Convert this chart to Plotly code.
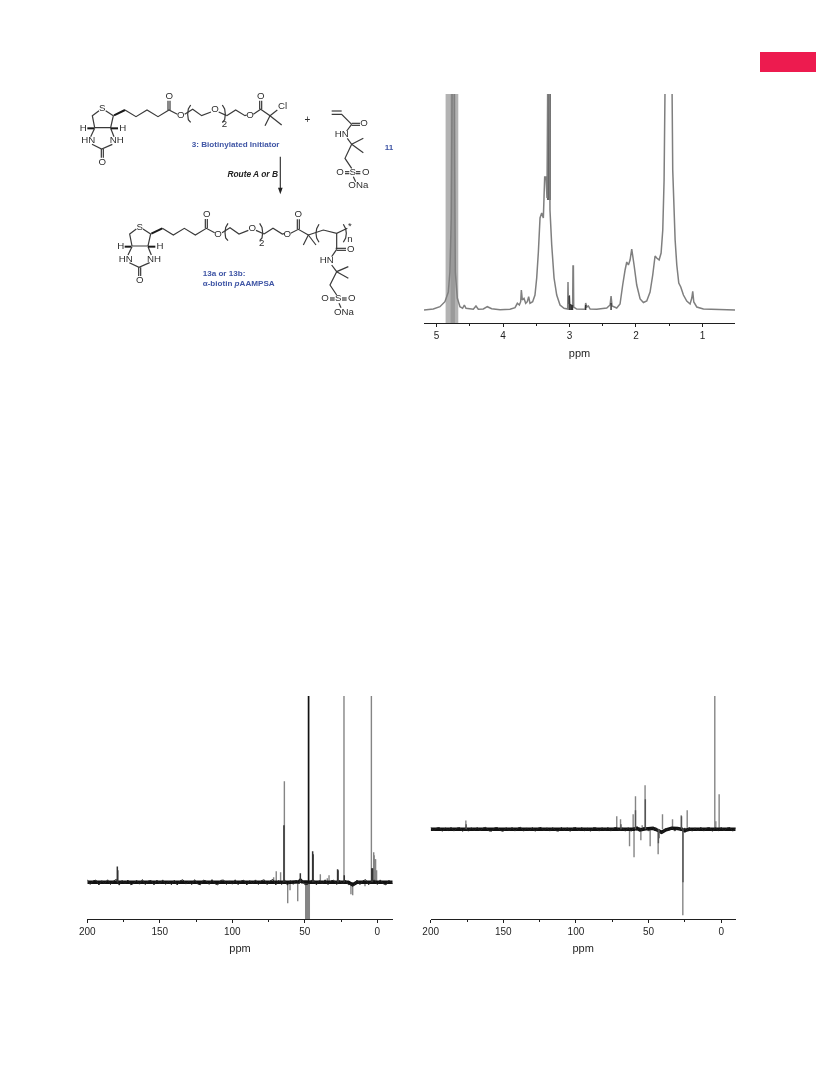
import plotly.graph_objects as go

W, H = 816, 1080
FONT = "Liberation Sans"
AXC = "#1f1f1f"

# ---------- 1H spectrum ----------
h1_ppm = [5.19,5.05,4.95,4.875,4.824,4.80,4.78,4.77,4.764,4.734,4.729,4.719,4.689,4.649,4.609,4.583,4.558,4.448,4.408,4.373,
          4.297,4.237,4.172,4.046,3.896,3.82,3.785,3.755,3.735,3.725,3.71,3.685,3.66,3.635,3.615,3.595,3.555,3.52,3.494,3.469,
          3.444,3.419,3.394,3.374,3.354,3.339,3.324,3.304,3.294,3.268,3.233,3.193,3.143,3.083,3.028,3.023,3.018,3.003,2.993,2.973,
          2.953,2.948,2.942,2.937,2.892,2.767,2.757,2.742,2.716,2.69,2.59,2.44,2.39,2.375,2.36,2.29,2.24,2.2,2.164,2.139,
          2.114,2.089,2.064,2.029,1.989,1.938,1.888,1.838,1.788,1.748,1.713,1.688,1.652,1.622,1.597,1.577,1.557,1.462,1.447,1.411,
          1.386,1.356,1.326,1.286,1.236,1.186,1.16,1.146,1.13,1.085,0.985,0.51]
h1_int = [0,1,3.3,8.3,18,38,92,192,260,260,160,38,12,3.3,1.7,5,1.7,0.7,4,0.7,
          1,3.3,1.3,0.3,0.7,2.3,6.7,5,8.3,20,10,11.7,6.7,8.3,13.3,6.7,8.3,15,32,58,
          92,97,92,133,133,112,260,260,100,65,32,15,5,1.7,1,28,6,15,5,5,
          5,44,44,3,1,0.7,7,3,4,1,0.7,2,5,14,4,2,6,25,40,48,
          45,50,61,45,25,11,7.5,9,18,35,54,52,50,57,80,130,260,260,140,70,
          45,27,23,15,9,6,12,18.7,8,3,1,0]
h1_band_ppm = [4.865, 4.674]
h1_band_inner_ppm = [4.79, 4.724]
h1_band_dark_ppm = [3.34, 3.28]
h1_band_dark_floor = 110
h1_dark_ppm = [3.005, 2.99, 2.97, 2.955, 2.375, 2.757]
h1_dark_int = [14, 6, 5, 5, 7, 5]
h1_ticks = [5, 4, 3, 2, 1]

# ---------- 13C spectrum (left) ----------
c1_core_ppm = [200, 60, 54, 53, 52, 46, 20, 17, 14, -10.6]
c1_core_int = [0, 0, 0.5, 2, 0.5, 0, 0, -2.5, 0, 0]
c1_base_ppm = [200,198,196,194,192,190,188,186,184,182,180,178,176,174,172,170,168,166,164,162,160,158,156,154,152,150,148,146,144,142,
               140,138,136,134,132,130,128,126,124,122,120,118,116,114,112,110,108,106,104,102,100,98,96,94,92,90,88,86,84,82,
               80,78,76,74,72,70,68,66,64,62,60,58,56,54,53,52,50,48,46,44,42,40,38,36,34,32,30,28,26,24,
               22,20,18,17,16,14,12,10,8,6,4,2,0,-2,-4,-6,-8,-10.6]
c1_base_int = [2.6,-2.1,1.4,2.2,-2.7,1.6,-1.3,2.5,-2.2,1.2,2.9,-2.8,1.9,-1.4,2.3,-2.5,-1.2,2.1,-1.9,2.7,-2.3,1.3,1.8,-2.6,2.2,-1.5,2.4,-2.1,1.1,-2.4,
               2.0,-2.7,1.5,2.5,-1.8,1.2,-2.3,2.6,-1.6,-2.5,2.2,1.3,-2.1,2.7,-1.4,-2.6,1.9,2.3,-2.2,1.4,-1.9,2.5,-2.4,1.2,2.1,-2.7,1.7,-1.3,2.4,-2.2,
               1.6,2.5,-2.3,1.3,2.8,-2.6,1.9,-2.2,2.4,-2.8,1.7,-2.0,2.2,-1.5,1.9,2.3,-2.4,-2.1,1.6,2.4,-2.5,1.8,-1.6,2.5,-2.3,1.4,2.1,-2.2,1.9,-1.7,
               2.3,-2.4,-1.6,-3.6,-2.9,2.2,-2.3,1.5,2.6,-2.5,1.3,2.1,-2.2,2.4,-1.4,-2.6,2.0,-1.8]
c1_grey_ppm = [71.5,69.7,66.7,64.1,60.2,61.8,54.9,49.4,48.8,48.2,47.6,46.9,39.3,33.3,34.5,23.0,18.2,17.0,8.5,4.1,2.5,2.2,1.6,1.2,0.5,1.9]
c1_grey_int = [5,11,10,101,-8,-21,-19,-37,-37,-37,-37,-37,8,7,4,190,-12,-13,-4,190,30,27,23,23,12,23]
c1_dark_ppm = [179.3,179.0,64.4,53.1,44.6,44.3,27.4,27.1,22.8,3.8,3.3]
c1_dark_int = [15.7,12,57,9,31,28,13,12,7,14,14]
c1_black_ppm = [47.4]
c1_black_int = [190]

# ---------- 13C spectrum (right) ----------
c2_core_ppm = [200, 60, 58, 56, 52, 47, 43, 41, 38, 34, 30, 27, 25, 24, 22, -10]
c2_core_int = [0, 0, 1.2, -0.6, 0.4, 1, -1.5, -3, -0.5, 1.2, 0.8, 0, -1.6, -0.8, 0, 0]
c2_base_ppm = [200,198,196,194,192,190,188,186,184,182,180,178,176,174,172,170,168,166,164,162,160,158,156,154,152,150,148,146,144,142,
               140,138,136,134,132,130,128,126,124,122,120,118,116,114,112,110,108,106,104,102,100,98,96,94,92,90,88,86,84,82,
               80,78,76,74,72,70,68,66,64,62,60,58,56,55,54,52,50,48,47,46,45,44,43,42,41,40,38,36,34,32,30,28,27,26,25,24,
               22,20,18,16,14,12,10,8,6,4,2,0,-2,-4,-6,-8,-10]
c2_base_int = [1.9,-1.7,1.3,1.8,-2.0,1.4,-1.2,2.0,-1.8,1.2,1.7,-2.1,1.5,-1.9,1.6,-1.4,1.9,-1.7,1.2,2.0,-1.6,-1.9,1.5,1.8,-1.3,-2.0,1.7,-1.5,1.9,-1.8,
               1.3,2.0,-1.9,1.4,-1.5,1.8,-2.0,1.2,1.9,-1.6,1.5,-1.8,1.7,-1.3,-1.9,2.0,-1.4,1.6,-2.1,1.3,1.8,-1.7,1.9,-1.5,1.2,-2.0,1.6,1.4,-1.8,1.7,
               -1.4,1.9,-1.8,1.3,2.0,-1.7,1.5,-1.9,1.6,-2.0,1.8,-1.3,1.7,-1.6,1.4,2.0,-1.8,1.3,1.7,-1.5,1.6,-1.7,-0.6,-3.8,-3.5,-2.6,0.9,-1.4,1.7,-1.8,1.5,-1.3,1.6,-1.7,1.4,-1.6,
               1.8,-1.9,1.4,-1.6,2.0,-1.8,1.3,1.7,-2.0,1.5,-1.4,1.9,-1.7,1.2,1.8,-1.9,1.6]
c2_grey_ppm = [175.8,71.9,69.3,63.1,60.6,60.0,59.0,55.3,54.4,52.4,48.9,43.4,40.4,33.5,27.5,26.4,23.4,4.4,3.7,1.4]
c2_grey_int = [8.7,13,10,-17,15,-28,33,-11,4,44,-17,-25,15,10,14,-86,19,140,8,35]
c2_dark_ppm = [175.6,69.0,59.0,52.2,43.2,42.8,27.3,26.3]
c2_dark_int = [5,5,19,30,-14,-9,13,-53]

# ---------- page / scheme ----------
flag_box = [760, 816, 52, 72]
ring_bonds = [[(87,77),(67,92),(74,128),(122,128),(130,92),(107,77)],
              [(74,130),(62,155)],[(122,130),(132,155)],[(66,178),(95,192),(127,178)],
              [(94,192),(94,218)],[(100,192),(100,218)],
              [(165,75),(198,95),(231,75),(264,95),(297,75),(322,88)],
              [(294,75),(294,47)],[(300,75),(300,47)],
              [(344,88),(368,73),(395,92),(423,81)],[(446,81),(470,92)]]
ring_wedges = [[(72,130),(52,130)],[(122,130),(144,130)],[(132,91),(165,75)]]
ring_labels = [(97,72,"S"),(40,131,"H"),(158,131,"H"),(55,168,"HN"),(140,168,"NH"),(97,232,"O"),(298,35,"O"),(332,93,"O"),(435,75,"O")]
ring_sub = [(463,120,"2")]
ring_brackets = [[(362,60),(355,72),(353,88),(355,104),(362,112)],[(457,60),(464,72),(466,88),(464,104),(457,112)]]
shift2 = (112, 355)

top_bonds = [[(470,92),(497,75),(525,92),(530,90)],[(550,88),(572,73),(600,92),(585,122)],[(600,92),(635,120)],
             [(600,92),(622,75)],[(569,73),(569,47)],[(575,73),(575,47)],
             [(785,78),(815,78)],[(785,88),(815,88),(845,118)],[(845,115),(870,115)],[(845,121),(870,121)],
             [(845,118),(830,138)],[(832,160),(845,178),(880,160)],[(845,178),(880,203)],
             [(845,178),(825,220),(845,250)],[(825,260),(838,260)],[(825,266),(838,266)],[(858,260),(871,260)],[(858,266),(871,266)],
             [(850,275),(857,290)]]
top_labels = [(572,35,"O"),(540,93,"O"),(638,66,"Cl"),(882,117,"O"),(815,150,"HN"),(848,263,"S"),(810,263,"O"),(887,263,"O"),(865,302,"ONa")]
plus_sign = [(712,105,"+")]

bot_bonds = [[(582,447),(609,430),(637,447),(642,446)],[(662,445),(685,433),(715,450),(700,480)],[(715,450),(738,480)],
             [(682,433),(682,403)],[(688,433),(688,403)],
             [(715,450),(760,435),(800,445),(832,430)],[(800,445),(800,493)],
             [(797,490),(828,490)],[(800,496),(828,496)],[(800,493),(785,515)],[(785,540),(800,560),(835,545)],
             [(800,560),(835,580)],[(800,560),(780,600),(800,630)],
             [(780,639),(794,639)],[(780,645),(794,645)],[(816,639),(830,639)],[(816,645),(830,645)],[(807,655),(813,668)]]
bot_labels = [(685,390,"O"),(652,450,"O"),(842,493,"O"),(770,528,"HN"),(805,642,"S"),(765,642,"O"),(845,642,"O"),(822,682,"ONa"),(840,425,"*")]
bot_sub = [(840,463,"n")]
bot_brackets = [[(747,418),(740,431),(738,445),(740,459),(747,472)],[(820,418),(827,431),(829,445),(827,459),(820,472)]]

arrow_shaft = [[(631,215),(631,312)]]
arrow_head = [(624,308),(638,308),(631,328),(624,308)]

blue_labels = [(497,181,"3: Biotinylated Initiator","middle center"),(957,190,"11","middle center"),
               (398,567,"13a or 13b:","middle right"),(398,597,"α-biotin <i>p</i>AAMPSA","middle right")]
route_label = [(548,270,"Route A or B")]


def sticks(ppm, val):
    xs, ys = [], []
    for p, v in zip(ppm, val):
        xs += [p, p, None]
        ys += [0, v, None]
    return xs, ys


def seg(paths, dx=0, dy=0):
    xs, ys = [], []
    for path in paths:
        for a, b in path:
            xs.append(a + dx)
            ys.append(b + dy)
        xs.append(None)
        ys.append(None)
    return xs, ys


fig = go.Figure()


def band(ppm, lo, hi, color, xa, ya):
    fig.add_trace(go.Scatter(x=[ppm[0], ppm[0], ppm[1], ppm[1], ppm[0]], y=[lo, hi, hi, lo, lo], mode="lines",
                             fill="toself", fillcolor=color, line=dict(width=0), xaxis=xa, yaxis=ya, showlegend=False, hoverinfo="skip"))


def line(xs, ys, color, width, xa, ya):
    fig.add_trace(go.Scatter(x=xs, y=ys, mode="lines", line=dict(color=color, width=width, simplify=False),
                             xaxis=xa, yaxis=ya, showlegend=False, hoverinfo="skip", connectgaps=False))


# panel 1
band(h1_band_ppm, -13, 216, "#b3b3b3", "x", "y")
band(h1_band_inner_ppm, -13, 216, "#9a9a9a", "x", "y")
band(h1_band_dark_ppm, h1_band_dark_floor, 216, "#666666", "x", "y")
line(h1_ppm, h1_int, "#7f7f7f", 1.5, "x", "y")
sx, sy = sticks(h1_dark_ppm, h1_dark_int)
line(sx, sy, "#333333", 1.4, "x", "y")

# panel 2
sx, sy = sticks(c1_grey_ppm, c1_grey_int)
line(sx, sy, "#858585", 1.4, "x2", "y2")
line(c1_core_ppm, c1_core_int, "#111111", 3.4, "x2", "y2")
line(c1_base_ppm, c1_base_int, "#222222", 1, "x2", "y2")
sx, sy = sticks(c1_dark_ppm, c1_dark_int)
line(sx, sy, "#333333", 1.5, "x2", "y2")
sx, sy = sticks(c1_black_ppm, c1_black_int)
line(sx, sy, "#111111", 1.7, "x2", "y2")

# panel 3
sx, sy = sticks(c2_grey_ppm, c2_grey_int)
line(sx, sy, "#858585", 1.4, "x3", "y3")
line(c2_core_ppm, c2_core_int, "#111111", 3.4, "x3", "y3")
line(c2_base_ppm, c2_base_int, "#222222", 1, "x3", "y3")
sx, sy = sticks(c2_dark_ppm, c2_dark_int)
line(sx, sy, "#555555", 1.4, "x3", "y3")

# scheme
sdx, sdy = shift2
for dx, dy in [(0, 0), (sdx, sdy)]:
    bx, by = seg(ring_bonds, dx, dy)
    line(bx, by, "#3a3a3a", 1.2, "x4", "y4")
    bx, by = seg(ring_wedges, dx, dy)
    line(bx, by, "#1a1a1a", 2, "x4", "y4")
    bx, by = seg(ring_brackets, dx, dy)
    line(bx, by, "#3a3a3a", 1.2, "x4", "y4")
for paths in (top_bonds, bot_bonds, bot_brackets, arrow_shaft):
    bx, by = seg(paths)
    line(bx, by, "#3a3a3a", 1.2, "x4", "y4")
bx, by = seg([arrow_head])
fig.add_trace(go.Scatter(x=bx, y=by, mode="lines", fill="toself", fillcolor="#222222", line=dict(width=0),
                         xaxis="x4", yaxis="y4", showlegend=False, hoverinfo="skip"))


def texts(items, size, color, dx=0, dy=0, weight="normal", style="normal", pos="middle center"):
    fig.add_trace(go.Scatter(x=[i[0] + dx for i in items], y=[i[1] + dy for i in items], text=[i[2] for i in items],
                             mode="text", textposition=pos,
                             textfont=dict(family=FONT, size=size, color=color, weight=weight, style=style),
                             xaxis="x4", yaxis="y4", showlegend=False, hoverinfo="skip", cliponaxis=False))


for dx, dy in [(0, 0), (sdx, sdy)]:
    texts(ring_labels, 9.7, "#2e2e2e", dx, dy)
    texts(ring_sub, 9.7, "#2e2e2e", dx, dy)
texts(top_labels, 9.7, "#2e2e2e")
texts(plus_sign, 10, "#2e2e2e")
texts(bot_labels, 9.7, "#2e2e2e")
texts(bot_sub, 9.7, "#2e2e2e")
for item in blue_labels:
    texts([item[:3]], 8.1, "#3f55a5", weight="bold", pos=item[3])
texts(route_label, 8.4, "#222222", weight="bold", style="italic")


def xaxis(dom, rng, ticks, minor, anchor, standoff):
    return dict(domain=[dom[0] / W, dom[1] / W], range=rng, anchor=anchor, showgrid=False, zeroline=False, automargin=False,
                showline=True, linecolor=AXC, linewidth=1.2, ticks="outside", ticklen=3, tickwidth=1.1, tickcolor=AXC,
                tickmode="array", tickvals=ticks, ticktext=[str(t) for t in ticks],
                tickfont=dict(family=FONT, size=10, color=AXC),
                minor=dict(dtick=minor, ticks="outside", ticklen=2, tickwidth=1, tickcolor=AXC, showgrid=False),
                title=dict(text="ppm", font=dict(family=FONT, size=11, color=AXC), standoff=standoff))


def yaxis(top, bottom, rng, anchor):
    return dict(domain=[1 - bottom / H, 1 - top / H], range=rng, anchor=anchor, visible=False, fixedrange=True, automargin=False)


fig.update_layout(
    width=W, height=H, margin=dict(l=0, r=0, t=0, b=0, pad=0, autoexpand=False), paper_bgcolor="white", plot_bgcolor="rgba(0,0,0,0)",
    showlegend=False,
    xaxis=xaxis((424, 735), [5.19, 0.51], h1_ticks, 0.5, "y", 9),
    yaxis=yaxis(94, 323, [-13, 216], "x"),
    xaxis2=xaxis((87.3, 392.7), [200, -10.6], [200, 150, 100, 50, 0], 25, "y2", 7),
    yaxis2=yaxis(696, 919.3, [-37, 186.3], "x2"),
    xaxis3=xaxis((430.7, 735.7), [200, -10], [200, 150, 100, 50, 0], 25, "y3", 7),
    yaxis3=yaxis(696, 919.3, [-90, 133.3], "x3"),
    xaxis4=dict(domain=[70 / W, 410 / W], range=[0, 1020], anchor="y4", visible=False, fixedrange=True, automargin=False),
    yaxis4=dict(domain=[1 - 335 / H, 1 - 85 / H], range=[750, 0], anchor="x4", visible=False, fixedrange=True, automargin=False),
    shapes=[dict(type="rect", xref="paper", yref="paper", x0=flag_box[0] / W, x1=flag_box[1] / W,
                 y0=1 - flag_box[3] / H, y1=1 - flag_box[2] / H, fillcolor="#ED1B4F", line=dict(width=0))],
)
fig.write_html("out.html", config=dict(displayModeBar=False),
               post_script="document.body.style.margin='0';document.getElementById('{plot_id}').style.filter='blur(0.6px)';")
